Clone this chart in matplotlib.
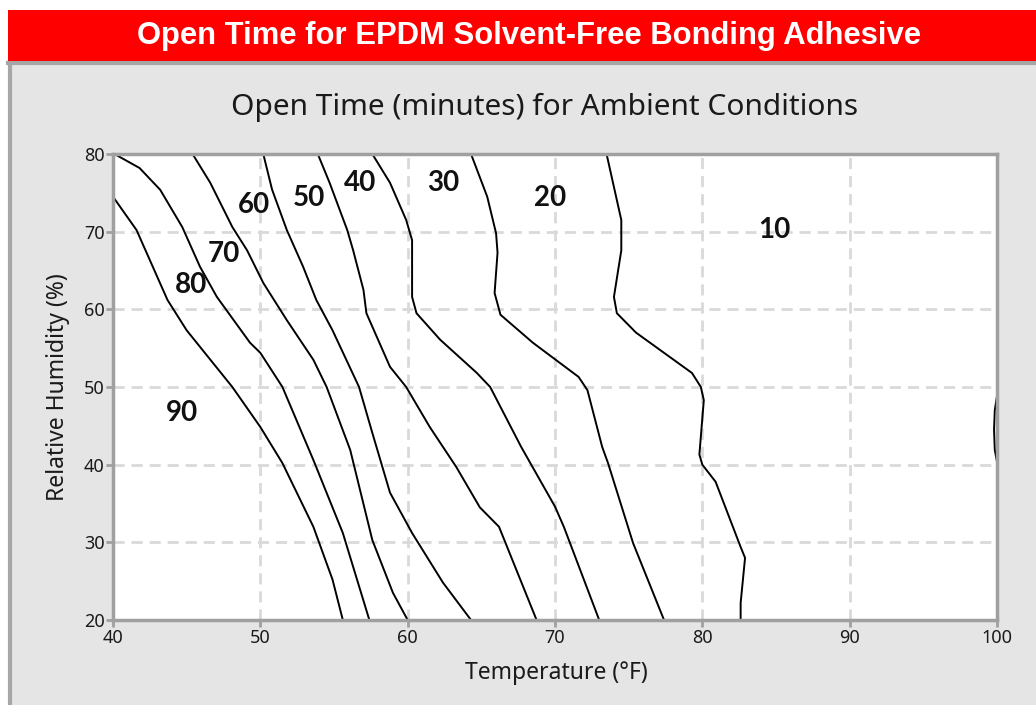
import matplotlib
matplotlib.use("Agg")
import matplotlib.pyplot as plt
from matplotlib.patches import Rectangle
from matplotlib.lines import Line2D

# ---------------- data (Temperature °F, Relative Humidity %) ----------------
c90_T = [40.0, 41.6, 43.7, 45.0, 48.1, 50.0, 51.5, 53.6, 54.9, 55.6]
c90_RH = [74.5, 70.2, 61.2, 57.3, 50.0, 44.85, 40.2, 32.0, 25.2, 20.0]

c80_T = [40.1, 41.8, 43.2, 44.7, 45.9, 47.05, 49.3, 50.0, 51.5, 53.6, 55.6, 57.4]
c80_RH = [80.0, 78.2, 75.4, 70.6, 65.5, 61.6, 55.7, 54.4, 50.0, 40.6, 31.2, 20.0]

c70_T = [45.4, 46.6, 48.1, 49.1, 50.2, 51.8, 53.6, 54.5, 56.1, 57.6, 59.0, 60.0]
c70_RH = [80.0, 76.3, 70.6, 67.6, 63.4, 58.6, 53.5, 50.0, 41.9, 30.3, 23.5, 20.0]

c60_T = [50.2, 50.8, 51.8, 52.9, 53.8, 54.9, 56.7, 57.6, 58.8, 60.3, 62.4, 64.3]
c60_RH = [80.0, 75.4, 70.2, 65.5, 61.2, 57.3, 50.0, 44.1, 36.4, 31.2, 24.8, 20.0]

c50_T = [53.9, 54.7, 55.9, 56.3, 57.0, 57.2, 58.8, 59.9, 61.5, 63.3, 64.9, 66.2, 68.75]
c50_RH = [80.0, 76.3, 70.2, 67.6, 62.5, 59.5, 52.6, 50.0, 44.85, 39.7, 34.5, 32.0, 20.0]

c40_T = [57.6, 58.8, 59.9, 60.3, 60.3, 60.6, 62.2, 64.7, 65.6, 67.7, 70.0, 70.6, 73.0]
c40_RH = [80.0, 76.3, 71.5, 68.9, 61.6, 59.5, 56.1, 51.8, 50.0, 42.3, 34.6, 32.0, 20.0]

c30_T = [64.3, 65.4, 66.0, 66.1, 65.9, 66.3, 68.5, 71.6, 72.2, 73.2, 73.6, 75.3, 77.4]
c30_RH = [80.0, 74.5, 69.8, 67.3, 62.1, 59.3, 55.7, 51.3, 49.6, 42.3, 40.2, 29.9, 20.0]

c20_T = [73.5, 74.5, 74.5, 74.0, 74.2, 75.5, 79.3, 79.9, 80.1, 79.8, 80.0, 80.9,
         82.6, 82.9, 82.6, 82.6]
c20_RH = [80.0, 71.5, 67.6, 61.6, 59.5, 57.0, 51.8, 50.0, 48.3, 41.3, 40.0, 37.8,
          29.4, 28.0, 22.2, 20.0]

c10_T = [100.0, 99.85, 99.8, 99.85, 100.0]
c10_RH = [48.85, 47.0, 44.5, 41.9, 40.35]

contour_T = [c90_T, c80_T, c70_T, c60_T, c50_T, c40_T, c30_T, c20_T, c10_T]
contour_RH = [c90_RH, c80_RH, c70_RH, c60_RH, c50_RH, c40_RH, c30_RH, c20_RH, c10_RH]

label_text = ["90", "80", "70", "60", "50", "40", "30", "20", "10"]
label_T = [44.7, 45.3, 47.5, 49.6, 53.3, 56.8, 62.4, 69.7, 84.9]
label_RH = [46.6, 63.1, 67.1, 73.4, 74.3, 76.3, 76.3, 74.3, 70.2]

x_ticks = [40, 50, 60, 70, 80, 90, 100]
y_ticks = [20, 30, 40, 50, 60, 70, 80]

banner_title = "Open Time for EPDM Solvent-Free Bonding Adhesive"
chart_title = "Open Time (minutes) for Ambient Conditions"
x_label = "Temperature (°F)"
y_label = "Relative Humidity (%)"

# ---------------- figure ----------------
W, H = 1036, 705
fig = plt.figure(figsize=(W / 100, H / 100), dpi=100)
fig.patch.set_facecolor("white")

def fx(px):
    return px / W

def fy(py):
    return 1 - py / H

# grey panel
fig.add_artist(Rectangle((fx(8), 0), 1 - fx(8), fy(62), transform=fig.transFigure,
                         facecolor="#e5e5e5", edgecolor="none", zorder=-3))
# panel borders
fig.add_artist(Line2D([fx(10), fx(10)], [0, fy(62)], transform=fig.transFigure,
                      color="#a6a6a6", lw=3, zorder=-2))
fig.add_artist(Line2D([fx(8), 1], [fy(63), fy(63)], transform=fig.transFigure,
                      color="#a6a6a6", lw=3, zorder=-2))
# red banner
fig.add_artist(Rectangle((fx(8), fy(61)), 1 - fx(8), fy(10) - fy(61),
                         transform=fig.transFigure, facecolor="#fe0000",
                         edgecolor="none", zorder=-1))
fig.text(fx(529), fy(36), banner_title, color="white", fontsize=22.3,
         fontweight="bold", family="Liberation Sans", ha="center", va="center",
         zorder=3)

fig.text(fx(545), fy(107), chart_title, color="#1a1a1a", fontsize=21.5,
         family="Noto Sans", ha="center", va="center")

ax = fig.add_axes([fx(113), fy(620), fx(997) - fx(113), fy(154) - fy(620)])
ax.set_zorder(2)
ax.set_facecolor("white")
ax.set_xlim(40, 100)
ax.set_ylim(20, 80)
ax.set_xticks(x_ticks)
ax.set_yticks(y_ticks)
ax.grid(True, color="#d9d9d9", linestyle=(0, (4, 2.5)), linewidth=2)
ax.set_axisbelow(True)
for s in ax.spines.values():
    s.set_color("#a0a0a0")
    s.set_linewidth(2.5)
ax.tick_params(axis="both", colors="#a0a0a0", width=2, length=5,
               labelcolor="#1a1a1a", labelsize=13)
for lab in ax.get_xticklabels() + ax.get_yticklabels():
    lab.set_family("Noto Sans")
ax.tick_params(axis="x", pad=1.5)
ax.tick_params(axis="y", pad=1)

for T, RH in zip(contour_T, contour_RH):
    ax.plot(T, RH, color="black", lw=1.4, solid_joinstyle="round", clip_on=True)

for t, xv, yv in zip(label_text, label_T, label_RH):
    ax.text(xv, yv, t, fontsize=20, fontweight="bold", family="Lato",
            ha="center", va="center", color="#111111")

fig.text(fx(556), fy(673), x_label, fontsize=16.5, family="Noto Sans",
         ha="center", va="center", color="#1a1a1a")
fig.text(fx(57.5), fy(387), y_label, fontsize=16.5, family="Noto Sans",
         ha="center", va="center", rotation=90, color="#1a1a1a")

fig.savefig("out.png", dpi=100, facecolor=fig.get_facecolor())
